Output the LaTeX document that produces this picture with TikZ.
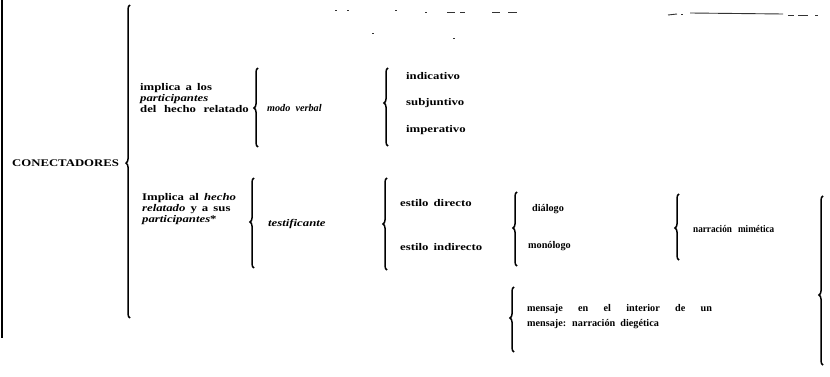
\documentclass[tikz,border=0pt]{standalone}
\usepackage{fontspec}
\setmainfont[FakeStretch=1.25]{Liberation Serif}
\newfontfamily\narrowfam[FakeStretch=1.0]{Liberation Serif}
\newfontfamily\slimfam[FakeStretch=0.9]{Liberation Serif}
\usetikzlibrary{decorations.pathreplacing}
\newcommand\mytxtfont{\fontsize{10.2}{11}\selectfont\bfseries\spaceskip 0.5em plus 0.1em\relax}
\newcommand\mynarrowfont{\narrowfam\fontsize{10.2}{15}\selectfont\bfseries\spaceskip 0.5em plus 0.1em\relax}
\newcommand\myslimfont{\slimfam\fontsize{10.2}{15}\selectfont\bfseries\spaceskip 0.6em plus 0.1em\relax}
\tikzset{
  txt/.style={anchor=west, inner sep=0pt, align=left, font=\mytxtfont},
  ntxt/.style={anchor=west, inner sep=0pt, align=left, font=\mynarrowfont},
  stxt/.style={anchor=west, inner sep=0pt, align=left, font=\myslimfont},
  brc/.style={line width=1.5pt, decorate,
    decoration={brace, amplitude=4pt, aspect=#1}},
  speck/.style={line width=0.9pt, black!80},
}
\begin{document}
\begin{tikzpicture}[x=1pt, y=-1pt]
\useasboundingbox (0,0) rectangle (830,377);
% left margin line
\draw[line width=1.6pt] (2,0) -- (2,338);
% root
\node[txt] (root) at (12,163) {CONECTADORES};
\draw[brc=0.495] (130,318) -- (130,5);
% upper branch
\node[txt] (a1) at (140,98) {implica a los\\ \textit{participantes}\\ {\spaceskip 0.75em\relax del hecho relatado}};
\draw[brc=0.494] (258,147) -- (258,68);
\node[ntxt] (a2) at (267,108) {\textit{modo verbal}};
\draw[brc=0.551] (388,146) -- (388,68);
\node[txt] (a3) at (406,76) {indicativo};
\node[txt] (a4) at (406,103) {subjuntivo};
\node[txt] (a5) at (406,130) {imperativo};
% lower branch
\node[txt] (b1) at (142,209) {Implica al \textit{hecho}\\ \textit{relatado} y a sus\\ \textit{participantes}*};
\draw[brc=0.511] (254,268) -- (254,178);
\node[txt] (b2) at (268,224) {\textit{testificante}};
\draw[brc=0.5] (387,270) -- (387,178);
\node[txt] (b3) at (400,203) {estilo directo};
\node[txt] (b4) at (400,247) {estilo indirecto};
\draw[brc=0.514] (517,266) -- (517,192);
\node[ntxt] (b5) at (532,209) {diálogo};
\node[ntxt] (b6) at (528,246) {monólogo};
\draw[brc=0.485] (679,260) -- (679,194);
\node[stxt] (b7) at (693,229) {narración mimética};
\draw[brc=0.523] (514,352) -- (514,287);
\node[ntxt] (b8) at (527,317) {{\spaceskip 1.5em\relax mensaje en el interior de un}\\ mensaje: narración diegética};
\draw[brc=0.414] (823,365) -- (823,196);
% scan specks at the top
\draw[speck] (335,10) -- (337,10);
\draw[speck] (347,10) -- (349,10);
\draw[speck] (395,10) -- (397,10);
\draw[speck] (372,33) -- (374,33);
\draw[speck] (425,12) -- (427,12);
\draw[speck] (447,12) -- (455,12);
\draw[speck] (460,12) -- (465,12);
\draw[speck] (492,12) -- (500,12);
\draw[speck] (508,12) -- (517,12);
\draw[speck] (453,38) -- (455,38);
\draw[speck] (668,15) -- (677,14);
\draw[speck] (681,14) -- (683,14);
\draw[speck] (690,13) -- (783,14);
\draw[speck] (788,15) -- (794,15);
\draw[speck] (798,15) -- (808,15);
\draw[speck] (815,15) -- (818,15);
\end{tikzpicture}
\end{document}
